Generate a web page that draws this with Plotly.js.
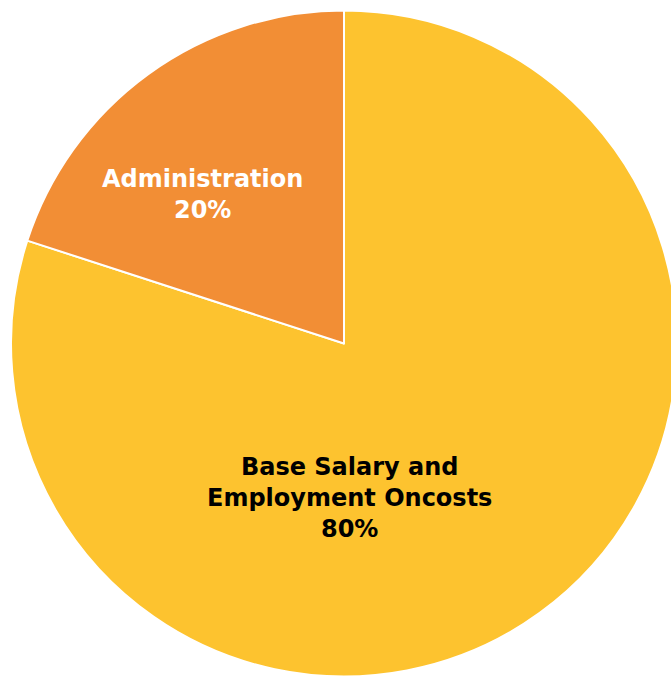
<!DOCTYPE html>
<html>
<head>
<meta charset="utf-8">
<script src="https://cdn.plot.ly/plotly-3.0.1.min.js"></script>
<style>
html,body{margin:0;padding:0;overflow:hidden;background:#fff;}
#chart{width:680px;height:677px;}
</style>
</head>
<body>
<div id="chart"></div>
<script>
const categories = ["Base Salary and<br>Employment Oncosts", "Administration"];
const values = [80, 20];
const percentLabels = ["80%", "20%"];
const colors = ["#FDC32F", "#F28E35"];
const textColors = ["#000000", "#FFFFFF"];
// label anchor positions (paper fraction) for each category
const labelX = [0.509, 0.287];
const labelY = [0.268, 0.723];

const trace = {
  type: "pie",
  labels: categories,
  values: values,
  sort: false,
  direction: "clockwise",
  rotation: 0,
  marker: {colors: colors, line: {color: "#FFFFFF", width: 2}},
  textinfo: "none",
  hoverinfo: "none",
  showlegend: false
};

const annotations = categories.map((c, i) => ({
  xref: "paper", yref: "paper",
  x: labelX[i], y: labelY[i],
  xanchor: "center", yanchor: "middle",
  showarrow: false,
  align: "center",
  text: c + "<br>" + percentLabels[i],
  font: {family: "DejaVu Sans", size: 24, color: textColors[i], weight: "bold"}
}));

Plotly.newPlot("chart", [trace], {
  width: 680,
  height: 677,
  margin: {l: 11, r: 3, t: 10, b: 0},
  paper_bgcolor: "#FFFFFF",
  showlegend: false,
  annotations: annotations
}, {staticPlot: true});
</script>
</body>
</html>
